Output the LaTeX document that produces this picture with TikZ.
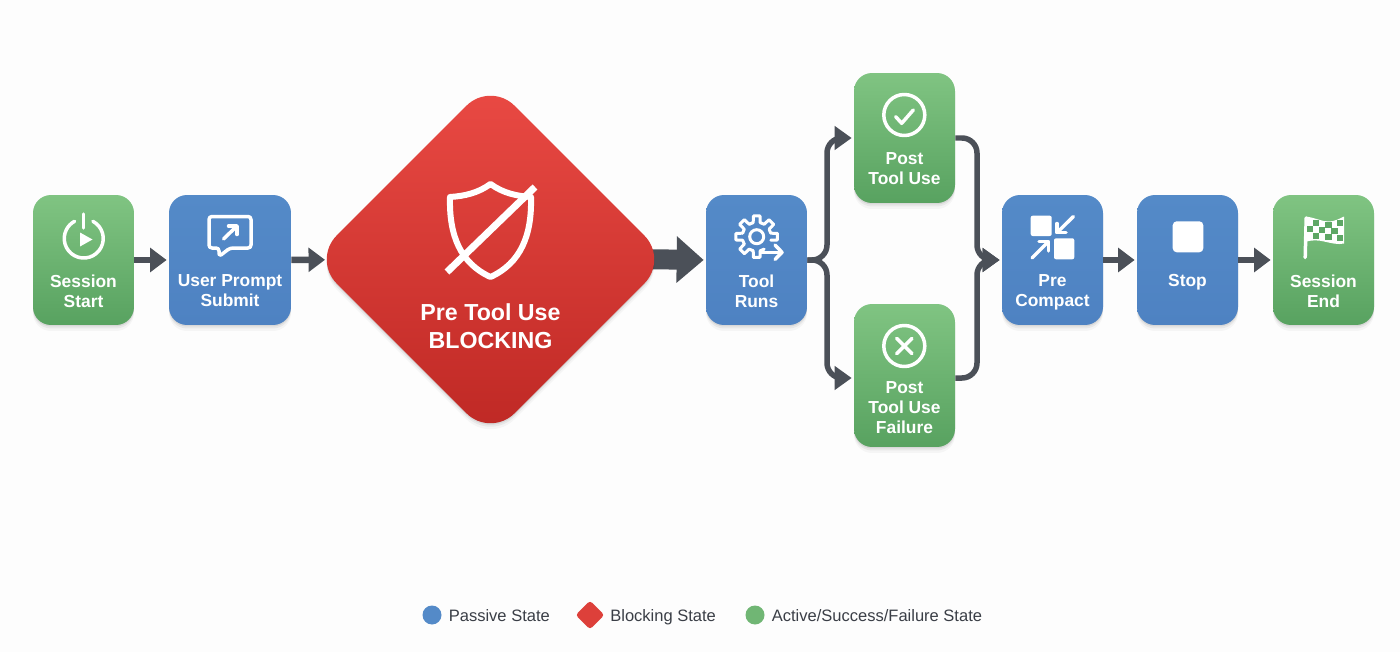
\documentclass[tikz,border=0pt]{standalone}
\usepackage{fontspec}
\setmainfont{Liberation Sans}
\usetikzlibrary{shadows, shapes.geometric, arrows.meta, backgrounds}
\definecolor{passive}{RGB}{84, 138, 200}
\definecolor{passivelow}{RGB}{78, 130, 194}
\definecolor{activetop}{RGB}{128, 196, 130}
\definecolor{activelow}{RGB}{88, 162, 96}
\definecolor{blockingtop}{RGB}{234, 74, 68}
\definecolor{blockinglow}{RGB}{190, 40, 36}
\definecolor{connector}{RGB}{75, 80, 88}
\definecolor{legendtext}{RGB}{58, 62, 70}
\definecolor{paper}{RGB}{253, 253, 253}
\tikzset{
    softshadow/.style={
        drop shadow={shadow xshift=0cm, shadow yshift=-0.03cm, opacity=0.07, fill=black},
        drop shadow={shadow xshift=0cm, shadow yshift=-0.07cm, opacity=0.05, fill=black},
        drop shadow={shadow xshift=0cm, shadow yshift=-0.12cm, opacity=0.03, fill=black}},
    statebox/.style={rounded corners=0.36cm, minimum width=2.02cm, minimum height=2.6cm, inner sep=0pt, softshadow},
    passivebox/.style={statebox, top color=passive, bottom color=passivelow},
    activebox/.style={statebox, top color=activetop, bottom color=activelow},
    boxtext/.style={text=white, align=center, anchor=north, inner sep=0pt, font=\bfseries\fontsize{9.9}{11.3}\selectfont},
    legendlabel/.style={text=legendtext, anchor=base west, inner sep=0pt, font=\fontsize{9.4}{11}\selectfont},
    flowline/.style={draw=connector, line width=0.13cm, -{Triangle[length=0.33cm, width=0.47cm]}, shorten >=0.04cm},
    branchline/.style={draw=connector, line width=0.11cm, rounded corners=0.3cm, -{Triangle[length=0.34cm, width=0.46cm]}, shorten >=0.04cm},
    icon/.style={draw=white, line width=0.07cm, line cap=round, line join=round},
    iconfill/.style={fill=white, draw=none}
}
\begin{document}
\begin{tikzpicture}[x=0.02cm, y=-0.02cm]
    \useasboundingbox (0,0) rectangle (1400,652);

    % State boxes
    \node[activebox] (sessionstart) at (83.5,260) {};
    \node[passivebox, minimum width=2.44cm] (userprompt) at (230,260) {};
    \node[diamond, aspect=1, minimum width=7.12cm, minimum height=7.12cm, inner sep=0pt, rounded corners=0.68cm, top color=blockingtop, bottom color=blockinglow, softshadow] (pretooluse) at (490.5,259.5) {};
    \node[passivebox] (toolruns) at (756.5,260) {};
    \node[activebox] (posttooluse) at (904.5,138) {};
    \node[activebox, minimum height=2.86cm] (posttoolfail) at (904.5,375.5) {};
    \node[passivebox] (precompact) at (1052.5,260) {};
    \node[passivebox] (stopstate) at (1187.5,260) {};
    \node[activebox] (sessionend) at (1323.5,260) {};

    % Box texts
    \node[boxtext] (sessionstarttext) at (83.5,274.5) {Session\\Start};
    \node[boxtext] (userprompttext) at (230,274.5) {User Prompt\\Submit};
    \node[boxtext, font=\bfseries\fontsize{13.2}{15.9}\selectfont] (pretoolusetext) at (490.5,303.5) {Pre Tool Use\\BLOCKING};
    \node[boxtext] (toolrunstext) at (756.5,274.5) {Tool\\Runs};
    \node[boxtext] (posttoolusetext) at (904.5,152.5) {Post\\Tool Use};
    \node[boxtext] (posttoolfailtext) at (904.5,381.5) {Post\\Tool Use\\Failure};
    \node[boxtext] (precompacttext) at (1052.5,274.5) {Pre\\Compact};
    \node[boxtext] (stopstatetext) at (1187.5,274.5) {Stop};
    \node[boxtext] (sessionendtext) at (1323.5,274.5) {Session\\End};

    % Connectors
    \draw[flowline] (sessionstart) -- (userprompt);
    \draw[flowline, shorten >=-0.25cm] (userprompt) -- (pretooluse);
    \begin{scope}[on background layer]
        \fill[paper] (0,0) rectangle (1400,652);
        \draw[draw=connector, line width=0.4cm, -{Triangle[length=0.54cm, width=0.9cm]}, shorten <=-0.6cm, shorten >=0.04cm] (pretooluse.east) -- (toolruns.west);
    \end{scope}
    \draw[flowline] (precompact) -- (stopstate);
    \draw[flowline] (stopstate) -- (sessionend);

    \coordinate (split) at (827,260);
    \coordinate (merge) at (977,260);
    \draw[branchline] (toolruns.east) -- (split) |- (posttooluse.west);
    \draw[branchline] (toolruns.east) -- (split) |- ([yshift=-0.05cm]posttoolfail.west);
    \draw[branchline] (posttooluse.east) -| (merge) -- (precompact.west);
    \draw[branchline] ([yshift=-0.05cm]posttoolfail.east) -| (merge) -- (precompact.west);

    % Icons
    \draw[icon] (92.9,221.3) arc (-62:242:19.5);
    \draw[icon] (83.7,214) -- (83.7,228);
    \fill[iconfill] (80,232.5) -- (92.5,239.5) -- (80,246.5) -- cycle;

    \draw[icon, rounded corners=0.06cm] (230,248) -- (251,248) -- (251,216.5) -- (209,216.5) -- (209,248) -- (219,248) -- (219,256.5) -- cycle;
    \draw[icon] (223.5,239) -- (237,226);
    \draw[icon] (228.5,226) -- (237,226) -- (237,234.5);

    \draw[icon, line width=0.12cm] (490.5,184) .. controls (478,193) and (465,196) .. (450,197) .. controls (449,235) and (460,263) .. (490.5,277) .. controls (521,263) and (532,235) .. (531,197) .. controls (516,196) and (503,193) .. cycle;
    \draw[icon, line width=0.14cm, line cap=butt] (447,272) -- (535,187);

    \foreach \toothangle in {0,90,135,180,225,270,315} {
        \draw[icon, line width=0.06cm, shift={(756.7,236.7)}] (\toothangle-31:14.5) arc (\toothangle-31:\toothangle-14:14.5) -- (\toothangle-9:21) -- (\toothangle+9:21) -- (\toothangle+14:14.5);
    }
    \draw[icon, line width=0.06cm] (756.7,236.7) circle (7);
    \draw[icon] (761,252.3) -- (782,252.3);
    \draw[icon] (775,245) -- (782,252.3) -- (775,259.5);

    \draw[icon] (904.3,115) circle (20.5);
    \draw[icon] (895.7,116.7) -- (901.7,123.3) -- (913.3,110);
    \draw[icon] (904.3,346) circle (20.5);
    \draw[icon] (896.7,338.3) -- (912,353.7);
    \draw[icon] (912,338.3) -- (896.7,353.7);

    \fill[iconfill, rounded corners=0.04cm] (1030.7,215.7) rectangle (1051.7,236);
    \fill[iconfill, rounded corners=0.04cm] (1054,238.3) rectangle (1074.3,259.3);
    \draw[icon] (1073.3,216.5) -- (1057,232.7);
    \draw[icon] (1057,223.5) -- (1057,232.7) -- (1066,232.7);
    \draw[icon] (1032,258) -- (1048.3,241.7);
    \draw[icon] (1039,241.7) -- (1048.3,241.7) -- (1048.3,251);

    \fill[iconfill, rounded corners=0.08cm] (1172.7,221.3) rectangle (1203.3,252.3);

    \draw[icon] (1305.2,257.5) -- (1306.2,218);
    \fill[iconfill] (1306,216.5) .. controls (1316,218) and (1323,222) .. (1330,221.5) .. controls (1335,221) and (1339,219) .. (1344,216.5) -- (1344,243.5) .. controls (1338,245) and (1331,243) .. (1324,241.5) .. controls (1318,240) and (1312,240) .. (1306.5,241.5) -- cycle;
    \foreach \cellx/\celly in {1315.7/222.5,1328.3/224.7,1340/223,1310/228.7,1321.7/229.7,1334.3/231.3,1315.7/236,1328.3/237.3,1340/238.3} {
        \fill[activelow!85!activetop] (\cellx-3.2,\celly-3) rectangle (\cellx+3.2,\celly+3);
    }

    % Legend
    \node[circle, fill=passive, minimum size=0.38cm, inner sep=0pt] (legendpassive) at (432,615) {};
    \node[legendlabel] (legendpassivetext) at (448.5,621) {Passive State};
    \node[diamond, aspect=1, minimum size=0.58cm, inner sep=0pt, rounded corners=0.06cm, fill=blockingtop!70!blockinglow] (legendblocking) at (590,615) {};
    \node[legendlabel] (legendblockingtext) at (610,621) {Blocking State};
    \node[circle, fill=activetop!60!activelow, minimum size=0.38cm, inner sep=0pt] (legendactive) at (755,615) {};
    \node[legendlabel] (legendactivetext) at (771.5,621) {Active/Success/Failure State};
\end{tikzpicture}
\end{document}
